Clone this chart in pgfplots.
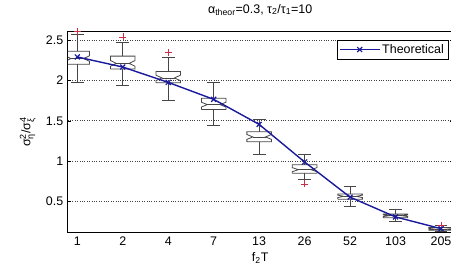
\documentclass[border=0pt]{standalone}
\usepackage{pgfplots}
\pgfplotsset{compat=1.18}
\usepackage{fontspec}
\setmainfont{Liberation Sans}
\definecolor{theo}{RGB}{25,25,155}
\definecolor{boxc}{RGB}{70,70,70}
\definecolor{outc}{RGB}{205,45,70}
\newcommand\smalltxt[1]{\hbox{\fontsize{9}{10}\selectfont #1}}
% notched box: pos, lower whisker, q1, median, q3, upper whisker, notch half-length
\newcommand\nbox[7]{%
  \pgfmathsetmacro\bxl{#1-0.27}\pgfmathsetmacro\bxr{#1+0.27}%
  \pgfmathsetmacro\bnl{#1-0.14}\pgfmathsetmacro\bnr{#1+0.14}%
  \pgfmathsetmacro\bcl{#1-0.14}\pgfmathsetmacro\bcr{#1+0.14}%
  \pgfmathsetmacro\bnlo{#4-#7}\pgfmathsetmacro\bnhi{#4+#7}%
  \edef\btmp{\noexpand\addplot[boxc,line width=0.8pt,forget plot] coordinates {(\bxl,#3) (\bxr,#3) (\bxr,\bnlo) (\bnr,#4) (\bxr,\bnhi) (\bxr,#5) (\bxl,#5) (\bxl,\bnhi) (\bnl,#4) (\bxl,\bnlo) (\bxl,#3)};
  \noexpand\addplot[boxc,line width=0.8pt,forget plot] coordinates {(\bnl,#4) (\bnr,#4)};
  \noexpand\addplot[boxc,line width=0.8pt,forget plot] coordinates {(#1,#5) (#1,#6)};
  \noexpand\addplot[boxc,line width=0.8pt,forget plot] coordinates {(#1,#3) (#1,#2)};
  \noexpand\addplot[boxc,line width=0.8pt,forget plot] coordinates {(\bcl,#6) (\bcr,#6)};
  \noexpand\addplot[boxc,line width=0.8pt,forget plot] coordinates {(\bcl,#2) (\bcr,#2)};}%
  \btmp}
\begin{document}
\begin{tikzpicture}
\begin{axis}[
  scale only axis, width=385bp, height=201.7bp,
  xmin=0.789, xmax=9.257, ymin=0.115, ymax=2.611,
  font=\fontsize{12.5}{14}\selectfont,
  /pgf/number format/assume math mode=true,
  xtick={1,2,3,4,5,6,7,8,9},
  xticklabels={1,2,4,7,13,26,52,103,205},
  ytick={0.5,1,1.5,2,2.5},
  yticklabels={0.5,1,1.5,2,2.5},
  tick align=inside,
  x tick style={draw=none},
  y tick style={black},
  major tick length=3bp,
  ymajorgrids,
  grid style={black!75, dotted, line width=0.6pt},
  axis line style={black, line width=0.6pt},
  xticklabel style={yshift=-1bp},
  yticklabel style={xshift=-1bp},
  title={α\textsubscript{theor}=0.3, τ\textsubscript{2}/τ\textsubscript{1}=10},
  title style={at={(0.5,1)}, anchor=base, yshift=12bp},
  xlabel={f\textsubscript{2}T},
  xlabel style={at={(0.5,0)}, anchor=base, yshift=-29bp},
  ylabel={σ$^{\smalltxt{2}}_{\smalltxt{η}}$/σ$^{\smalltxt{4}}_{\smalltxt{ξ}}$},
  ylabel style={at={([xshift=-40bp]axis description cs:0,0.5)}, anchor=center},
  legend style={at={(0.988,0.955)}, anchor=north east, draw=black, line width=0.5pt,
    font=\fontsize{12.5}{14}\selectfont, inner sep=2pt},
  legend image code/.code={%
    \draw[#1] (0cm,0cm) -- (1.4cm,0cm);
    \draw[#1, only marks] plot coordinates {(0.7cm,0cm)};},
  clip=true,
]
\nbox{1}{1.98}{2.20}{2.27}{2.36}{2.57}{0.035}
\nbox{2}{1.94}{2.14}{2.21}{2.30}{2.47}{0.035}
\nbox{3}{1.75}{1.97}{2.03}{2.11}{2.29}{0.035}
\nbox{4}{1.44}{1.64}{1.70}{1.78}{1.97}{0.03}
\nbox{5}{1.08}{1.24}{1.30}{1.365}{1.52}{0.03}
\nbox{6}{0.77}{0.85}{0.895}{0.955}{1.08}{0.025}
\nbox{7}{0.44}{0.53}{0.565}{0.595}{0.685}{0.015}
\nbox{8}{0.25}{0.30}{0.325}{0.345}{0.40}{0.01}
\nbox{9}{0.125}{0.145}{0.16}{0.18}{0.20}{0.008}
\addplot[only marks, mark=+, mark size=3.5pt, outc, forget plot] coordinates {
  (1,2.605) (2,2.54) (3,2.35) (6,0.72) (9,0.21)};
\addplot[theo, line width=1.4pt, mark=x, mark size=3.5pt, mark options={line width=1.2pt}] coordinates {
  (1,2.29) (2,2.165) (3,1.975) (4,1.765) (5,1.455) (6,0.99) (7,0.555) (8,0.31) (9,0.165)};
\addlegendentry{Theoretical}
\coordinate (ll) at (rel axis cs:0,0);
\end{axis}
\pgfresetboundingbox
\useasboundingbox (ll) ++(-67.7bp,-42.3bp) rectangle ++(451bp,275bp);
\end{tikzpicture}
\end{document}
